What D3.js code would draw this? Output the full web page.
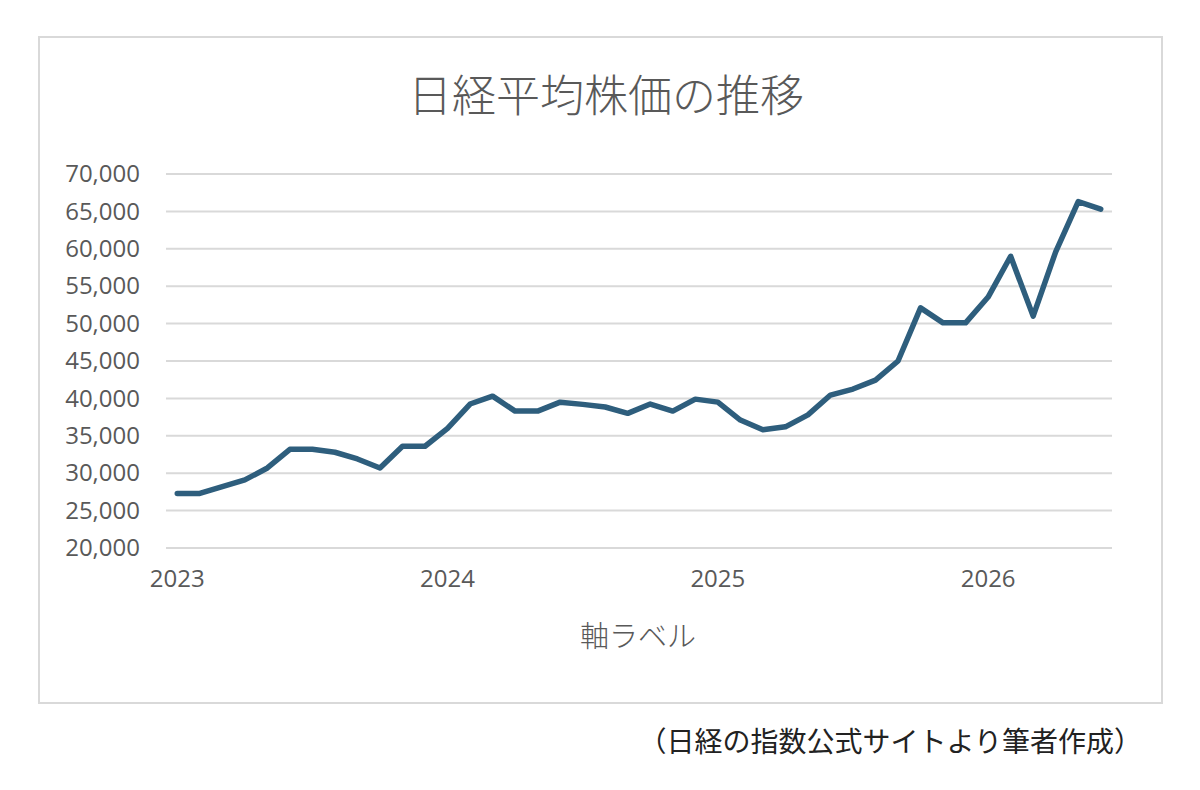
<!DOCTYPE html>
<html lang="ja">
<head>
<meta charset="utf-8">
<script src="https://d3js.org/d3.v7.min.js"></script>
<style>
  body { margin: 0; background: #fff; }
  text { font-family: "Open Sans", "Noto Sans", sans-serif; fill: #595959; }
  .jp { font-family: "Noto Sans CJK JP", "Noto Sans", sans-serif; }
</style>
</head>
<body>
<svg width="1200" height="790"></svg>
<script>
// month labels Jan 2023 .. Jun 2026
var months = [];
[2023, 2024, 2025, 2026].forEach(function(yr) {
  for (var m = 1; m <= 12; m++) {
    if (yr === 2026 && m > 6) break;
    months.push(yr + "-" + (m < 10 ? "0" + m : m));
  }
});

// monthly Nikkei 225
var nikkei = [
  27300, 27300, 28200, 29100, 30700, 33200, 33200, 32800, 31900, 30700, 33600, 33600,
  36000, 39250, 40300, 38300, 38300, 39500, 39200, 38850, 38000, 39250, 38300, 39900,
  39500, 37100, 35800, 36200, 37800, 40450, 41250, 42450, 45000, 52100, 50100, 50100,
  53550, 59000, 51000, 59600, 66300, 65300
];

var yTicks = [20000, 25000, 30000, 35000, 40000, 45000, 50000, 55000, 60000, 65000, 70000];
var xTickLabels = ["2023-01", "2024-01", "2025-01", "2026-01"];

var svg = d3.select("svg");

// outer chart frame
svg.append("rect")
    .attr("x", 39).attr("y", 37)
    .attr("width", 1123).attr("height", 666)
    .attr("fill", "#fff")
    .attr("stroke", "#d9d9d9")
    .attr("stroke-width", 2);

var plotLeft = 166, plotRight = 1112, plotTop = 174, plotBottom = 548;

var x = d3.scaleBand().domain(months).range([plotLeft, plotRight]);
var y = d3.scaleLinear().domain([20000, 70000]).range([plotBottom, plotTop]);

// gridlines
svg.append("g")
  .selectAll("line")
  .data(yTicks)
  .join("line")
    .attr("x1", plotLeft).attr("x2", plotRight)
    .attr("y1", function(d) { return y(d); })
    .attr("y2", function(d) { return y(d); })
    .attr("stroke", "#d9d9d9")
    .attr("stroke-width", 2);

// y axis labels
var yAxis = d3.axisLeft(y).tickValues(yTicks).tickFormat(d3.format(",")).tickSize(0).tickPadding(0);
svg.append("g")
    .attr("transform", "translate(140,0)")
    .call(yAxis)
    .call(function(g) { g.select(".domain").remove(); })
    .selectAll("text")
    .attr("font-size", 24)
    .attr("font-family", null)
    .attr("fill", "#595959");

// x axis labels
var xAxis = d3.axisBottom(x).tickValues(xTickLabels)
    .tickFormat(function(d) { return d.slice(0, 4); })
    .tickSize(0).tickPadding(0);
svg.append("g")
    .attr("transform", "translate(0,570)")
    .call(xAxis)
    .call(function(g) { g.select(".domain").remove(); })
    .selectAll("text")
    .attr("font-size", 24)
    .attr("font-family", null)
    .attr("fill", "#595959");

// line
var line = d3.line()
    .x(function(d, i) { return x(months[i]) + x.bandwidth() / 2; })
    .y(function(d) { return y(d); });

svg.append("path")
    .datum(nikkei)
    .attr("d", line)
    .attr("fill", "none")
    .attr("stroke", "#2e5e7d")
    .attr("stroke-width", 5.5)
    .attr("stroke-linejoin", "round")
    .attr("stroke-linecap", "round");

// title
svg.append("text")
    .attr("class", "jp")
    .attr("x", 606).attr("y", 112)
    .attr("text-anchor", "middle")
    .attr("font-size", 44)
    .attr("font-weight", 300)
    .text("日経平均株価の推移");

// axis title
svg.append("text")
    .attr("class", "jp")
    .attr("x", 638).attr("y", 647)
    .attr("text-anchor", "middle")
    .attr("font-size", 29)
    .attr("font-weight", 300)
    .text("軸ラベル");

// source note
svg.append("text")
    .attr("class", "jp")
    .attr("x", 1142).attr("y", 752)
    .attr("text-anchor", "end")
    .attr("font-size", 28)
    .style("fill", "#222")
    .text("（日経の指数公式サイトより筆者作成）");
</script>
</body>
</html>
